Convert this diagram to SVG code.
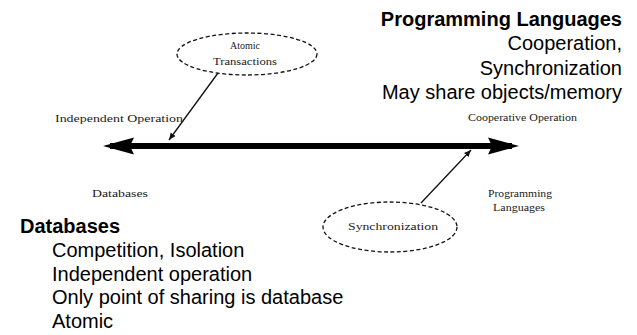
<svg xmlns="http://www.w3.org/2000/svg" width="637" height="335" viewBox="0 0 637 335">
<style>
.big{font-family:"Liberation Sans",Arial,sans-serif;font-size:20px;fill:#000}
.bold{font-weight:bold}
.sm{font-family:"Liberation Serif","Times New Roman",serif;font-size:10px;fill:#222}
.ell{fill:none;stroke:#111;stroke-width:1.3;stroke-dasharray:4 2.5}
.conn{fill:none;stroke:#111;stroke-width:1.3}
</style>
<defs>
<marker id="tip" markerWidth="8" markerHeight="8" refX="7" refY="4" orient="auto" markerUnits="userSpaceOnUse">
<path d="M0,1 L7,4 L0,7 Z" fill="#111"/>
</marker>
</defs>
<rect width="637" height="335" fill="#fff"/>

<g id="connectors">
<line x1="110" y1="146" x2="512" y2="146" stroke="#000" stroke-width="6"/>
<polygon points="103,146 134,137.5 130,146 134,154.5" fill="#000"/>
<polygon points="519,146 488,137.5 492,146 488,154.5" fill="#000"/>
<path class="conn" d="M218,73 L169,140" marker-end="url(#tip)"/>
<path class="conn" d="M421,203 L471,150" marker-end="url(#tip)"/>
</g>

<g id="atomic-transactions">
<ellipse class="ell" cx="247" cy="54" rx="70" ry="21"/>
<text class="sm" x="245" y="49" text-anchor="middle" textLength="30" lengthAdjust="spacingAndGlyphs">Atomic</text>
<text class="sm" x="245" y="65" text-anchor="middle" textLength="64" lengthAdjust="spacingAndGlyphs">Transactions</text>
</g>

<g id="synchronization">
<ellipse class="ell" cx="390" cy="227" rx="67" ry="25"/>
<text class="sm" x="393" y="229.5" text-anchor="middle" textLength="90" lengthAdjust="spacingAndGlyphs">Synchronization</text>
</g>

<g id="independent-operation">
<text class="sm" x="55" y="121.5" textLength="128" lengthAdjust="spacingAndGlyphs">Independent Operation</text>
</g>
<g id="cooperative-operation">
<text class="sm" x="468" y="120.5" textLength="109" lengthAdjust="spacingAndGlyphs">Cooperative Operation</text>
</g>
<g id="databases-label">
<text class="sm" x="92" y="196.5" textLength="56" lengthAdjust="spacingAndGlyphs">Databases</text>
</g>
<g id="programming-label">
<text class="sm" x="520" y="196.5" text-anchor="middle" textLength="64" lengthAdjust="spacingAndGlyphs">Programming</text>
<text class="sm" x="519" y="210.5" text-anchor="middle" textLength="52" lengthAdjust="spacingAndGlyphs">Languages</text>
</g>

<g id="programming-languages-notes">
<text class="big bold" x="622" y="26" text-anchor="end">Programming Languages</text>
<text class="big" x="622" y="50" text-anchor="end">Cooperation,</text>
<text class="big" x="622" y="74.5" text-anchor="end">Synchronization</text>
<text class="big" x="622" y="98.5" text-anchor="end">May share objects/memory</text>
</g>

<g id="databases-notes">
<text class="big bold" x="20" y="233">Databases</text>
<text class="big" x="52" y="257">Competition, Isolation</text>
<text class="big" x="52" y="280.5">Independent operation</text>
<text class="big" x="52" y="304">Only point of sharing is database</text>
<text class="big" x="52" y="327.5">Atomic</text>
</g>
</svg>
